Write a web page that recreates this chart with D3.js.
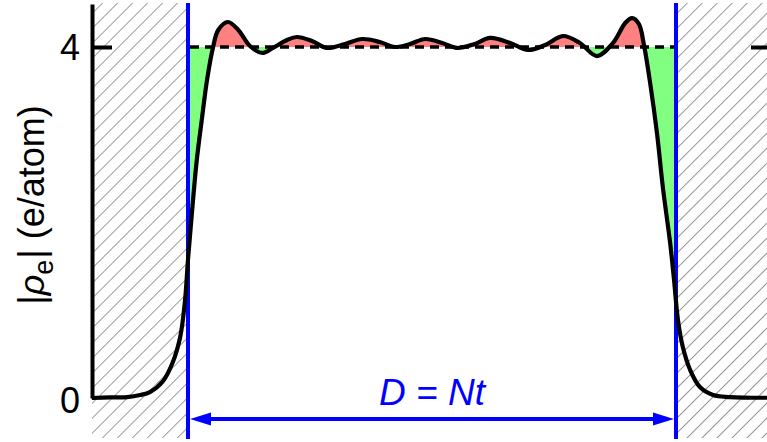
<!DOCTYPE html>
<html>
<head>
<meta charset="utf-8">
<script src="https://cdn.jsdelivr.net/npm/d3@7"></script>
<style>
  html, body { margin: 0; padding: 0; background: #fff; }
  svg { display: block; }
  text { font-family: "Liberation Sans", Arial, sans-serif; }
</style>
</head>
<body>
<svg id="chart" width="767" height="442"></svg>
<script>
// Electron density across a film of N layers of thickness t (position in units of D = Nt)
const position = [-0.197, -0.160, -0.125, -0.098, -0.078, -0.051, -0.031, -0.016, -0.006, 0.000,
  0.008, 0.018, 0.029, 0.039, 0.051, 0.062, 0.082, 0.103, 0.127, 0.152,
  0.174, 0.203, 0.223, 0.254, 0.285, 0.322, 0.357, 0.393, 0.424, 0.455,
  0.486, 0.521, 0.551, 0.588, 0.619, 0.660, 0.697, 0.732, 0.768, 0.803,
  0.838, 0.871, 0.896, 0.910, 0.924, 0.934, 0.947, 0.961, 0.973, 0.988,
  0.996, 1.004, 1.014, 1.029, 1.049, 1.076, 1.111, 1.187];
const density = [0.000, 0.006, 0.011, 0.034, 0.068, 0.194, 0.410, 0.695, 1.117, 1.580,
  2.108, 2.712, 3.202, 3.624, 3.989, 4.194, 4.285, 4.194, 4.011, 3.932,
  3.989, 4.080, 4.114, 4.068, 3.989, 4.034, 4.091, 4.057, 4.000, 4.034,
  4.091, 4.046, 3.989, 4.034, 4.103, 4.046, 3.966, 4.023, 4.125, 4.046,
  3.897, 4.046, 4.274, 4.330, 4.262, 4.034, 3.590, 3.020, 2.405, 1.766,
  1.345, 0.889, 0.581, 0.319, 0.125, 0.034, 0.011, 0.003];
const bulkDensity = 4;
const yTicks = [0, 4];
const yLabelParts = ["|", "ρ", "e", "| (e/atom)"];
const widthLabel = ["D", " = ", "Nt"];

const svg = d3.select("#chart");
const W = 767, H = 442;
const plotLeft = 92, plotTop = 4, plotBottom = 398;

const x = d3.scaleLinear().domain([0, 1]).range([188, 676]);
const y = d3.scaleLinear().domain([0, 4.49]).range([plotBottom, plotTop]);

const pts = position.map((p, i) => ({ p, v: density[i] }));
const font = '"Liberation Sans", Arial, sans-serif';

// Hatch pattern for the regions outside the film
const defs = svg.append("defs");
const pat = defs.append("pattern")
  .attr("id", "hatch")
  .attr("patternUnits", "userSpaceOnUse")
  .attr("width", 10.6).attr("height", 10.6)
  .attr("patternTransform", "rotate(45)");
pat.append("line")
  .attr("x1", 0).attr("y1", 0).attr("x2", 0).attr("y2", 10.6)
  .attr("stroke", "#999").attr("stroke-width", 2);

defs.append("clipPath").attr("id", "above")
  .append("rect").attr("x", x(0)).attr("y", 0)
  .attr("width", x(1) - x(0)).attr("height", y(bulkDensity));
defs.append("clipPath").attr("id", "below")
  .append("rect").attr("x", x(0)).attr("y", y(bulkDensity))
  .attr("width", x(1) - x(0)).attr("height", H - y(bulkDensity));

svg.append("rect").attr("x", plotLeft).attr("y", 3)
  .attr("width", x(0) - plotLeft).attr("height", 435).attr("fill", "url(#hatch)");
svg.append("rect").attr("x", x(1)).attr("y", 3)
  .attr("width", W - x(1)).attr("height", 435).attr("fill", "url(#hatch)");

// Deviations from the bulk value: excess (red) and deficit (green)
const area = d3.area()
  .x(d => x(d.p))
  .y0(y(bulkDensity))
  .y1(d => y(d.v))
  .curve(d3.curveCatmullRom);
svg.append("path").datum(pts).attr("d", area)
  .attr("fill", "#ff8080").attr("clip-path", "url(#above)");
svg.append("path").datum(pts).attr("d", area)
  .attr("fill", "#80ff80").attr("clip-path", "url(#below)");

// Bulk reference level
svg.append("line")
  .attr("x1", x(0) + 2).attr("x2", x(1))
  .attr("y1", y(bulkDensity)).attr("y2", y(bulkDensity))
  .attr("stroke", "#000").attr("stroke-width", 3.5)
  .attr("stroke-dasharray", "9,6");

// Left axis with inward tick
const axisL = d3.axisLeft(y).tickValues(yTicks).tickFormat(d3.format("d"))
  .tickSize(-20).tickSizeOuter(0).tickPadding(12);
const gL = svg.append("g").attr("transform", `translate(${plotLeft},0)`).call(axisL);
gL.select(".domain").attr("stroke-width", 4).attr("stroke", "#000");
gL.selectAll(".tick line").attr("stroke-width", 4).attr("stroke", "#000")
  .attr("display", d => d === 0 ? "none" : null);
gL.selectAll(".tick text")
  .attr("font-family", font).attr("font-size", 36).attr("fill", "#000")
  .attr("dy", "0.36em")
  .attr("y", d => d === 0 ? 2 : 0);

// Right-hand tick at the bulk level
const axisR = d3.axisLeft(y).tickValues([bulkDensity]).tickSize(16).tickSizeOuter(0).tickFormat("");
const gR = svg.append("g").attr("transform", `translate(${W},0)`).call(axisR);
gR.select(".domain").remove();
gR.selectAll(".tick line").attr("stroke-width", 4).attr("stroke", "#000");

// Film boundaries
[0, 1].forEach(b => {
  svg.append("line")
    .attr("x1", x(b)).attr("x2", x(b)).attr("y1", 3).attr("y2", 439)
    .attr("stroke", "#0000ff").attr("stroke-width", 4);
});

// Thickness arrow
const ay = 419, headL = 21, headW = 6.5;
svg.append("line")
  .attr("x1", x(0) + 10).attr("x2", x(1) - 10).attr("y1", ay).attr("y2", ay)
  .attr("stroke", "#0000ff").attr("stroke-width", 4);
svg.append("path")
  .attr("d", `M${x(0) + 2},${ay} L${x(0) + 2 + headL},${ay - headW} L${x(0) + 2 + headL},${ay + headW} Z`)
  .attr("fill", "#0000ff");
svg.append("path")
  .attr("d", `M${x(1) - 2},${ay} L${x(1) - 2 - headL},${ay - headW} L${x(1) - 2 - headL},${ay + headW} Z`)
  .attr("fill", "#0000ff");

const t = svg.append("text")
  .attr("x", (x(0) + x(1)) / 2).attr("y", 405)
  .attr("text-anchor", "middle")
  .attr("font-size", 37).attr("font-style", "italic").attr("fill", "#0000ff")
  .style("white-space", "pre");
widthLabel.forEach(s => t.append("tspan").text(s));

// Density profile
const line = d3.line().x(d => x(d.p)).y(d => y(d.v)).curve(d3.curveCatmullRom);
svg.append("path").datum(pts).attr("d", line)
  .attr("fill", "none").attr("stroke", "#000").attr("stroke-width", 4.2)
  .attr("stroke-linejoin", "round");

// Y-axis title
const yl = svg.append("text")
  .attr("transform", "translate(44,205) rotate(-90)")
  .attr("text-anchor", "middle")
  .attr("font-size", 36).attr("fill", "#000")
  .style("white-space", "pre");
yl.append("tspan").text(yLabelParts[0]);
yl.append("tspan").text(yLabelParts[1]).attr("font-style", "italic");
yl.append("tspan").text(yLabelParts[2]).attr("font-size", 27).attr("dy", 9);
yl.append("tspan").text(yLabelParts[3]).attr("dy", -9).attr("dx", 1);
</script>
</body>
</html>
